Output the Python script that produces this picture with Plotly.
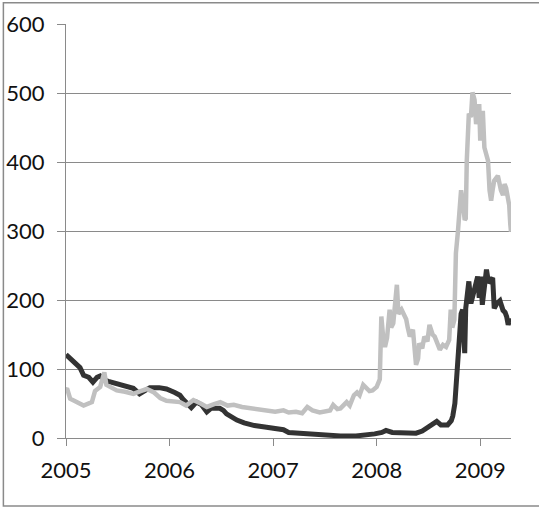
import plotly.graph_objects as go

# decimal-year positions and values
light_x = [2005.00, 2005.01, 2005.04, 2005.10, 2005.17, 2005.25, 2005.28, 2005.33, 2005.37, 2005.39,
           2005.45, 2005.49, 2005.57, 2005.65, 2005.72, 2005.78, 2005.85, 2005.91, 2005.97, 2006.03,
           2006.10, 2006.16, 2006.23, 2006.30, 2006.36, 2006.43, 2006.49, 2006.56, 2006.62, 2006.70,
           2006.82, 2006.92, 2007.02, 2007.10, 2007.15, 2007.22, 2007.28, 2007.33, 2007.38, 2007.45,
           2007.55, 2007.58, 2007.62, 2007.65, 2007.71, 2007.74, 2007.78, 2007.81, 2007.835, 2007.87,
           2007.90, 2007.93, 2007.96, 2008.00, 2008.03, 2008.045, 2008.06, 2008.08, 2008.10, 2008.125,
           2008.14, 2008.16, 2008.195, 2008.21, 2008.24, 2008.285, 2008.30, 2008.32, 2008.35, 2008.38,
           2008.40, 2008.41, 2008.44, 2008.46, 2008.49, 2008.51, 2008.54, 2008.56, 2008.61, 2008.64,
           2008.67, 2008.70, 2008.715, 2008.73, 2008.75, 2008.765, 2008.785, 2008.80, 2008.815, 2008.83,
           2008.85, 2008.86, 2008.87, 2008.89, 2008.91, 2008.925, 2008.945, 2008.96, 2008.99, 2009.00,
           2009.025, 2009.04, 2009.06, 2009.075, 2009.09, 2009.105, 2009.12, 2009.135, 2009.17, 2009.19,
           2009.20, 2009.22, 2009.235, 2009.25, 2009.265, 2009.28, 2009.29, 2009.297]
light_y = [70, 72, 57, 52, 47, 52, 68, 74, 95, 77,
           72, 69, 67, 64, 68, 71, 66, 58, 54, 53,
           52, 47, 55, 50, 45, 49, 52, 47, 48, 45,
           42, 40, 38, 40, 37, 38, 36, 45, 40, 37,
           40, 48, 42, 43, 52, 47, 62, 66, 62, 77,
           72, 68, 69, 74, 85, 176, 150, 132, 145, 186,
           160, 166, 222, 180, 186, 172, 160, 147, 157, 106,
           115, 137, 130, 147, 140, 164, 150, 147, 128, 135,
           132, 142, 186, 160, 171, 268, 300, 325, 359, 345,
           316, 318, 402, 470, 465, 501, 490, 455, 484, 431,
           474, 421, 410, 402, 359, 344, 360, 373, 380, 365,
           359, 352, 368, 362, 345, 337, 310, 299]

dark_x = [2005.00, 2005.03, 2005.07, 2005.10, 2005.135, 2005.17, 2005.22, 2005.26, 2005.30, 2005.33,
          2005.37, 2005.41, 2005.49, 2005.55, 2005.585, 2005.65, 2005.71, 2005.76, 2005.81, 2005.90,
          2005.97, 2006.05, 2006.10, 2006.13, 2006.17, 2006.21, 2006.26, 2006.31, 2006.36, 2006.40,
          2006.485, 2006.52, 2006.55, 2006.60, 2006.65, 2006.72, 2006.82, 2006.92, 2007.02, 2007.10,
          2007.15, 2007.25, 2007.35, 2007.42, 2007.51, 2007.65, 2007.80, 2007.90, 2007.98, 2008.05,
          2008.09, 2008.15, 2008.25, 2008.38, 2008.44, 2008.48, 2008.53, 2008.58, 2008.62, 2008.685,
          2008.72, 2008.735, 2008.755, 2008.77, 2008.80, 2008.815, 2008.83, 2008.85, 2008.86, 2008.875,
          2008.89, 2008.91, 2008.94, 2008.96, 2008.975, 2008.99, 2009.005, 2009.02, 2009.045, 2009.06,
          2009.08, 2009.105, 2009.12, 2009.135, 2009.16, 2009.19, 2009.22, 2009.24, 2009.255, 2009.27,
          2009.285, 2009.297]
dark_y = [121, 117, 113, 108, 102, 91, 88, 81, 88, 90,
          84, 82, 79, 75, 74, 72, 64, 68, 73, 73,
          71, 66, 62, 56, 50, 44, 52, 48, 38, 43,
          43, 40, 35, 30, 26, 22, 18, 16, 13, 12,
          8, 7, 6, 5, 3, 3, 3, 4, 6, 8,
          11, 8, 7, 7, 10, 14, 17, 24, 19, 19,
          25, 32, 50, 85, 142, 180, 186, 123, 188, 205,
          227, 195, 215, 222, 234, 203, 234, 193, 229, 244,
          225, 229, 232, 188, 195, 199, 185, 182, 176, 164,
          172, 168]

x_ticks = [2005, 2006, 2007, 2008, 2009]
x_labels = ["2005", "2006", "2007", "2008", "2009"]
y_ticks = [0, 100, 200, 300, 400, 500, 600]

FONT = "Lato, 'Open Sans', sans-serif"
GRID = "#8a8a8a"

fig = go.Figure()
fig.add_trace(go.Scatter(x=dark_x, y=dark_y, mode="lines",
                         line=dict(color="#333333", width=5), showlegend=False))
fig.add_trace(go.Scatter(x=light_x, y=light_y, mode="lines",
                         line=dict(color="#c0c0c0", width=4.5), showlegend=False))

fig.update_layout(
    width=539, height=507,
    margin=dict(l=66, r=28, t=24, b=69),
    paper_bgcolor="white", plot_bgcolor="white",
    font=dict(family=FONT, size=22, color="#111111"),
    showlegend=False,
)
fig.update_xaxes(
    range=[2005, 2009.297], tickvals=x_ticks, ticktext=x_labels,
    showgrid=False, zeroline=False, automargin=False,
    showline=True, linecolor=GRID, linewidth=1,
    ticks="outside", ticklen=7, tickcolor=GRID, tickwidth=1,
    ticklabelstandoff=6,
)
fig.update_yaxes(
    range=[0, 600], tickvals=y_ticks,
    showgrid=True, gridcolor=GRID, gridwidth=1, zeroline=False, automargin=False,
    showline=True, linecolor=GRID, linewidth=1,
    ticks="outside", ticklen=8, tickcolor=GRID, tickwidth=1,
    ticklabelstandoff=8,
)
# chart-area border
fig.add_shape(type="rect", xref="paper", yref="paper",
              x0=-0.1407, x1=1.2, y0=-0.1643, y1=1.0514,
              line=dict(color="#8a8a8a", width=1.5), fillcolor="rgba(0,0,0,0)", layer="above")

fig.write_html("out.html", config={"displayModeBar": False},
               post_script="document.body.style.margin='0';document.body.style.padding='0';")
